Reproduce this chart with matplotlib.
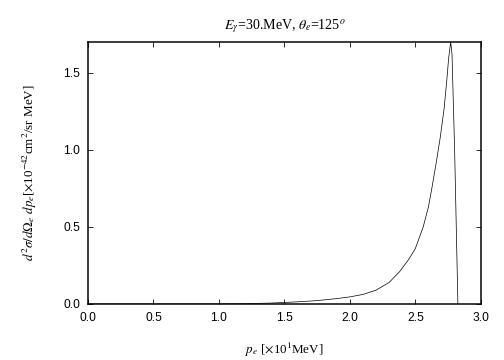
import matplotlib
matplotlib.use("Agg")
import matplotlib.pyplot as plt

# values (p_e in units of 10 MeV)
p_e = [0.0, 1.0, 1.2, 1.4, 1.5, 1.6, 1.75, 1.9, 2.0, 2.1, 2.2, 2.3, 2.38,
       2.45, 2.5, 2.56, 2.6, 2.63, 2.66, 2.69, 2.72, 2.74, 2.755, 2.77,
       2.78, 2.80, 2.825]
xsec = [0.0, 0.0, 0.002, 0.006, 0.010, 0.014, 0.022, 0.035, 0.046, 0.062,
        0.09, 0.14, 0.21, 0.29, 0.36, 0.50, 0.63, 0.77, 0.92, 1.08, 1.27,
        1.45, 1.60, 1.70, 1.62, 1.00, 0.0]

plt.rcParams['mathtext.fontset'] = 'stix'
serif = 'Liberation Serif'
sans = 'Liberation Sans'

fig = plt.figure(figsize=(7, 5), dpi=72)
ax = fig.add_axes([0.1746, 0.1556, 0.7794, 0.7278])
ax.plot(p_e, xsec, color='black', lw=0.7)

ax.set_xlim(0, 3.0)
ax.set_ylim(0, 1.70)
ax.set_xticks([0.0, 0.5, 1.0, 1.5, 2.0, 2.5, 3.0])
ax.set_yticks([0.0, 0.5, 1.0, 1.5])
ax.set_xticklabels([f"{v:.1f}" for v in ax.get_xticks()], family=sans, fontsize=12)
ax.set_yticklabels([f"{v:.1f}" for v in ax.get_yticks()], family=sans, fontsize=12)
ax.tick_params(direction='in', top=True, right=True, length=5, width=0.8, pad=8)
for s in ax.spines.values():
    s.set_linewidth(1.5)

ax.set_title(r'$E_{\gamma}$=30.MeV, $\theta_e$=125$^o$', family=serif,
             fontsize=14, pad=13)
ax.set_xlabel(r'$p_e$ [$\times$10$^1$MeV]', family=serif, fontsize=13, labelpad=17)
ax.set_ylabel(r'$d^2\sigma/d\Omega_e\ dp_e$[$\times$10$^{-42}$cm$^2$/sr MeV]',
              family=serif, fontsize=13, labelpad=24)

fig.savefig('out.png', dpi=72)
